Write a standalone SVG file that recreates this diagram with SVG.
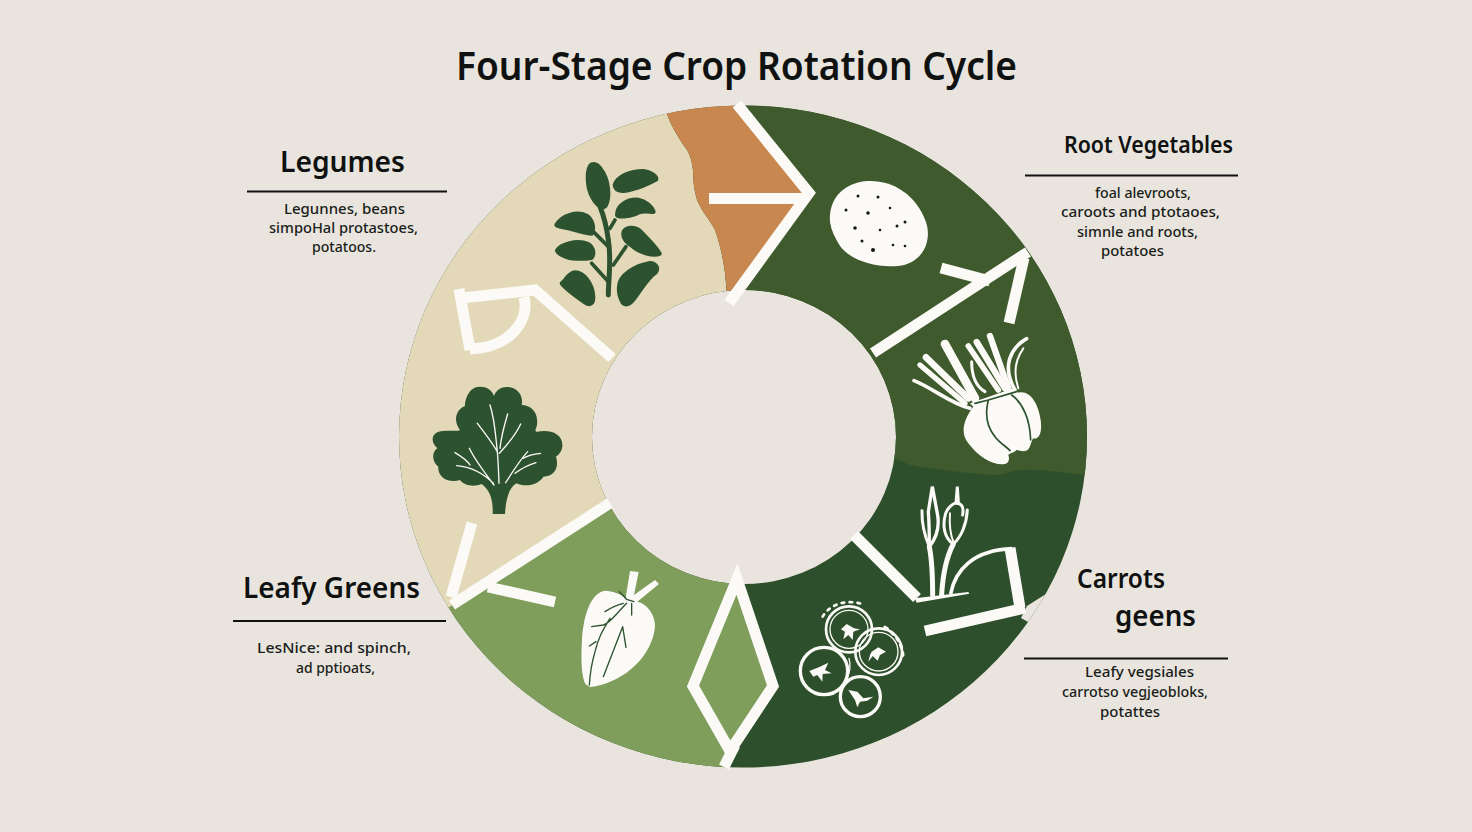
<svg xmlns="http://www.w3.org/2000/svg" width="1472" height="832" viewBox="0 0 1472 832">
<style>
.h{font-family:"Noto Sans","Open Sans","Liberation Sans",sans-serif;font-weight:600;fill:#0f1210}
.b{font-family:"Noto Sans","Open Sans","Liberation Sans",sans-serif;font-weight:500;font-size:14px;fill:#1a1d1a}
.r{stroke:#111;stroke-width:2;fill:none}
.c{fill:none;stroke:#fbfaf6;stroke-width:11;stroke-linecap:butt;stroke-linejoin:miter;stroke-miterlimit:3}
.w{fill:#fbfaf6}
.d{fill:#2d5230}
.f{fill:#2d5230;stroke:#2d5230;stroke-width:14;stroke-linejoin:round}
.ws{fill:none;stroke:#fbfaf6;stroke-linecap:round}
.ds{fill:none;stroke:#2d5230;stroke-linecap:round}
</style>
<defs>
<clipPath id="ring"><path clip-rule="evenodd" d="M399 436.5A344 331 0 1 1 1087 436.5A344 331 0 1 1 399 436.5ZM592 437A152 147 0 1 0 896 437A152 147 0 1 0 592 437Z"/></clipPath>
</defs>
<rect id="background" width="1472" height="832" fill="#e9e5de"/>
<text class="h" x="456" y="80" font-size="40" textLength="561" lengthAdjust="spacingAndGlyphs">Four-Stage Crop Rotation Cycle</text>

<g id="ring-segments" clip-path="url(#ring)">
<rect id="seg-carrots" x="380" y="90" width="720" height="700" fill="#2e4f2c"/>
<path id="seg-roots" fill="#3f5a2c" d="M737 100L812 193L730 302L743 440L893 457C900 461 905 463 910 465C925 468 935 469 943 470C960 472 978 474 993 475C1005 475 1012 471 1020 470C1035 469 1048 471 1060 472C1068 473 1075 474 1082 475L1100 475L1100 90L737 90Z"/>
<path id="seg-legumes" fill="#e3d9b9" d="M667 114C672 128 680 140 687 150C691 157 692 163 693 170C693 180 694 190 697 200C702 212 710 220 715 230C720 244 723 258 725 273L727 295L743 436L610 503L440 620L380 500L380 90L667 90Z"/>
<path id="seg-orange" fill="#c8874f" d="M667 114L665 100L737 100L812 193L730 302L727 292C726 285 726 280 725 273C723 258 720 244 715 230C710 220 702 212 697 200C694 190 693 180 693 170C692 163 691 157 687 150C680 140 672 128 667 114Z"/>
<path id="seg-leafy" fill="#7f9d5b" d="M610 503L440 613L440 800L720 790L728 760L773 686L737 575L737 436Z"/>
<path id="notch" fill="#e9e5de" d="M1060 585L1027 606L1021 618L1060 640Z"/>
</g>

<g id="node-legumes">
<g transform="translate(540 100) scale(.3333)">
<path class="ds" stroke-width="15" d="M205 585C205 540 215 480 205 420C200 380 190 345 180 320"/>
<path class="ds" stroke-width="11" d="M160 395L205 440M155 490L205 545M258 440L220 495M225 360L210 385"/>
<path class="f" d="M155 194C140 205 140 260 158 292C172 316 190 330 197 316C210 290 205 238 182 208C174 196 165 190 155 194Z"/>
<path class="f" d="M225 255C232 231 270 214 310 214C333 217 350 230 348 238C340 241 318 254 290 263C260 274 227 278 225 255Z"/>
<path class="f" d="M232 345C232 318 260 298 295 300C316 303 336 322 340 335C330 335 310 331 295 337C275 349 235 352 232 345Z"/>
<path class="f" d="M50 375C66 348 110 333 140 348C158 361 162 385 155 400C130 398 105 389 85 384C66 380 55 377 50 375Z"/>
<path class="f" d="M252 395C260 380 290 380 303 397C326 420 350 445 358 461C340 469 300 456 280 440C258 426 246 413 252 395Z"/>
<path class="f" d="M52 452C62 434 110 419 145 433C162 445 162 464 154 473C130 477 90 477 74 468C62 464 55 458 52 452Z"/>
<path class="f" d="M66 550C78 544 82 522 105 518C130 518 157 551 159 590C160 610 150 617 136 607C110 589 78 566 66 550Z"/>
<path class="f" d="M238 560C238 528 284 498 330 490C346 490 356 504 347 516C318 536 302 571 279 599C265 618 250 615 246 602C240 590 236 575 238 560Z"/>
</g>
<text class="h" x="280" y="172" font-size="29" textLength="125" lengthAdjust="spacingAndGlyphs">Legumes</text>
<line class="r" x1="247" y1="191.500" x2="447" y2="191.500"/>
<text class="b" x="284" y="214" textLength="121" lengthAdjust="spacingAndGlyphs">Legunnes, beans</text>
<text class="b" x="269" y="233" textLength="149" lengthAdjust="spacingAndGlyphs">simpoHal protastoes,</text>
<text class="b" x="312" y="252" textLength="64" lengthAdjust="spacingAndGlyphs">potatoos.</text>
</g>

<g id="node-root-vegetables">
<path class="w" d="M830 222C828 198 845 182 868 181C892 180 916 194 926 222C933 244 920 264 898 266C875 268 850 260 840 246C835 238 831 230 830 222Z"/>
<g fill="#15180f">
<circle cx="858" cy="196" r="1.500"/><circle cx="878" cy="197" r="1.500"/><circle cx="846" cy="210" r="1.500"/><circle cx="868" cy="213" r="1.800"/><circle cx="890" cy="208" r="1.300"/><circle cx="905" cy="222" r="1.500"/><circle cx="855" cy="228" r="1.800"/><circle cx="880" cy="230" r="1.300"/><circle cx="893" cy="245" r="1.300"/><circle cx="873" cy="250" r="2"/><circle cx="905" cy="246" r="1.300"/><circle cx="897" cy="226" r="1.500"/><circle cx="862" cy="241" r="1.500"/>
</g>
<g transform="translate(860 240) scale(.3333)">
<path class="ws" stroke-width="26" stroke-linecap="butt" d="M255 312L345 475"/>
<path class="ws" stroke-width="20" stroke-linecap="butt" d="M198 352L325 475"/>
<path class="ws" stroke-width="16" stroke-linecap="butt" d="M180 375L315 490"/>
<path class="ws" stroke-width="11" d="M162 422C220 445 270 490 330 505"/>
<path class="ws" stroke-width="17" stroke-linecap="butt" d="M325 318L415 450"/>
<path class="ws" stroke-width="19" stroke-linecap="butt" d="M350 306L435 445"/>
<path class="ws" stroke-width="19" stroke-linecap="butt" d="M390 288L445 445"/>
<path class="ws" stroke-width="9" d="M335 365C335 410 350 440 375 455"/>
<path class="ws" stroke-width="11" d="M500 296C450 325 425 380 465 450"/>
<path class="ws" stroke-width="6" d="M490 325C465 360 460 400 475 445"/>
<path class="w" d="M330 490L460 445L475 458C510 450 535 490 542 540C548 580 535 600 520 595C515 600 512 620 505 628C495 638 480 632 470 630C460 640 447 640 445 645C450 660 445 672 430 673C395 675 355 650 325 610C300 580 310 540 340 500Z"/>
<path class="ds" stroke-width="5" d="M385 480C375 520 380 560 405 590C420 610 440 620 450 632M455 465C490 490 510 540 512 600M345 490L385 480L470 455"/>
</g>
<text class="h" x="1064" y="153" font-size="24" textLength="169" lengthAdjust="spacingAndGlyphs">Root Vegetables</text>
<line class="r" x1="1025" y1="175.500" x2="1238" y2="175.500"/>
<text class="b" x="1095" y="198" textLength="96" lengthAdjust="spacingAndGlyphs">foal alevroots,</text>
<text class="b" x="1061" y="217" textLength="159" lengthAdjust="spacingAndGlyphs">caroots and ptotaoes,</text>
<text class="b" x="1077" y="237" textLength="121" lengthAdjust="spacingAndGlyphs">simnle and roots,</text>
<text class="b" x="1101" y="256" textLength="63" lengthAdjust="spacingAndGlyphs">potatoes</text>
</g>

<g id="node-carrots">
<g transform="translate(780 470) scale(.3333)">
<path class="ws" stroke-width="15" stroke-linecap="butt" d="M458 375C458 320 456 270 448 230"/>
<path class="ws" stroke-width="9" d="M448 230C435 200 425 160 426 122"/>
<path class="ws" stroke-width="10" d="M448 230C472 200 480 170 472 130L457 50L445 125C448 165 448 195 448 225"/>
<path class="ws" stroke-width="15" stroke-linecap="butt" d="M485 375C488 320 500 260 520 222"/>
<path class="ws" stroke-width="9" d="M520 222C545 200 560 160 562 120M520 222C495 205 485 170 497 130C505 110 520 100 535 95L532 50L528 100C545 100 552 110 548 135"/>
<path class="ws" stroke-width="6" d="M510 130C508 160 510 190 520 215"/>
<path class="w" d="M405 385L565 366L568 371L410 398Z"/>
<path class="c" stroke-width="18" d="M512 372C525 300 580 240 697 236"/>
<circle class="ws" cx="207" cy="478" r="69" stroke-width="8"/>
<circle class="ws" cx="207" cy="478" r="57" stroke-width="4"/>
<path class="ws" stroke-width="8" stroke-dasharray="8 16" d="M128 440C150 402 200 385 255 405"/>
<circle class="ws" cx="296" cy="545" r="70" stroke-width="8"/>
<circle class="ws" cx="296" cy="545" r="58" stroke-width="4"/>
<path class="ws" stroke-width="10" stroke-dasharray="8 16" d="M315 472C352 495 372 530 368 570"/>
<circle class="ws" cx="132" cy="603" r="71" stroke-width="10"/>
<path class="ws" stroke-width="4" d="M207 565C217 600 200 650 160 672"/>
<circle class="ws" cx="241" cy="680" r="60" stroke-width="10"/>
<path class="w" d="M200 462L222 475L240 478L220 485L218 510L205 495L190 508L195 485L183 478Z"/>
<path class="w" d="M275 545L295 532L318 545L300 555L293 572L278 558L265 575L270 555Z"/>
<path class="w" d="M88 603L120 590L145 578L135 600L155 610L128 612L127 635L112 615L100 620Z"/>
<path class="w" d="M205 660L232 665L250 685L280 680L262 692L240 695L232 712L225 690Z"/>
</g>
<text class="h" x="1077" y="588" font-size="27" textLength="88" lengthAdjust="spacingAndGlyphs">Carrots</text>
<text class="h" x="1115" y="626" font-size="29" textLength="81" lengthAdjust="spacingAndGlyphs">geens</text>
<line class="r" x1="1024" y1="658.500" x2="1228" y2="658.500"/>
<text class="b" x="1085" y="677" textLength="109" lengthAdjust="spacingAndGlyphs">Leafy vegsiales</text>
<text class="b" x="1062" y="697" textLength="146" lengthAdjust="spacingAndGlyphs">carrotso vegjeobloks,</text>
<text class="b" x="1100" y="717" textLength="60" lengthAdjust="spacingAndGlyphs">potattes</text>
</g>

<g id="node-leafy-greens">
<g transform="translate(560 560) scale(.3333)">
<path class="w" d="M210 33L236 36L222 105L285 60L297 72L232 125C260 130 287 165 285 200C280 255 245 305 200 338C165 362 125 378 90 381L76 372C65 350 62 300 66 240C70 170 90 105 130 93C150 90 180 103 197 113Z"/>
<path class="ds" stroke-width="4" d="M178 95L200 118L222 125M215 130L215 165M190 130C165 135 150 145 135 155M200 130C165 165 150 190 130 195L95 200M150 175C125 215 115 235 105 275C95 310 90 340 88 375M108 245L88 258M188 200L130 350M188 200L198 262"/>
</g>
<text class="h" x="243" y="598" font-size="29" textLength="177" lengthAdjust="spacingAndGlyphs">Leafy Greens</text>
<line class="r" x1="233" y1="621" x2="446" y2="621"/>
<text class="b" x="257" y="653" textLength="154" lengthAdjust="spacingAndGlyphs">LesNice: and spinch,</text>
<text class="b" x="296" y="673" textLength="79" lengthAdjust="spacingAndGlyphs">ad pptioats,</text>
</g>

<g id="node-tree">
<g transform="translate(400 270) scale(.3333)">
<path class="d" d="M278 732C280 690 270 660 245 642C225 650 195 650 180 630C150 640 112 625 115 590C95 575 95 545 112 535C85 510 100 482 130 483C150 480 170 485 180 480C160 455 165 420 195 408C195 390 205 350 240 350C265 350 278 365 282 378C290 355 310 348 330 352C360 358 370 385 365 405C395 405 418 430 410 470C405 480 405 485 412 485C450 478 490 490 487 530C485 545 475 555 468 560C478 590 465 620 430 620C420 640 380 655 350 640C330 650 318 680 315 732Z"/>
<path class="ws" stroke-width="4" d="M270 405C285 450 288 510 292 545C295 580 296 610 297 640M232 460C255 490 275 515 292 545M323 432C315 460 305 490 300 535M362 462C345 500 320 525 298 550M208 535C225 570 255 610 282 645M165 548C185 560 200 570 210 585M170 587C205 590 245 605 280 640M383 545C360 570 335 610 317 638M422 550C400 552 385 555 370 565M408 578C385 585 365 595 345 610"/>
</g>
</g>

<g id="connectors">
<path class="c" d="M737 104L809 193L729 303"/>
<path class="c" d="M709 198.500L807 198.500"/>
<path class="c" d="M873 353L1028 252"/>
<path class="c" d="M941 268L990 281"/>
<path class="c" d="M1009 323L1024 258"/>
<path class="c" d="M854 535L917 598"/>
<path class="c" d="M925 631L1025 608"/>
<path class="c" d="M1010 548L1020 608"/>
<path class="c" d="M737 579L693 686L730 751L773 686L737 579Z"/>
<path class="c" d="M735 745L724 767"/>
<path class="c" d="M612 358L535 290L462 298"/>
<path class="c" d="M459 289L470 350"/>
<path class="c" stroke-width="5" d="M524 297C530 320 510 348 470 349"/>
<path class="c" d="M610 503L452 605"/>
<path class="c" d="M472 523L451 597"/>
<path class="c" d="M488 587L555 602"/>
</g>
</svg>
